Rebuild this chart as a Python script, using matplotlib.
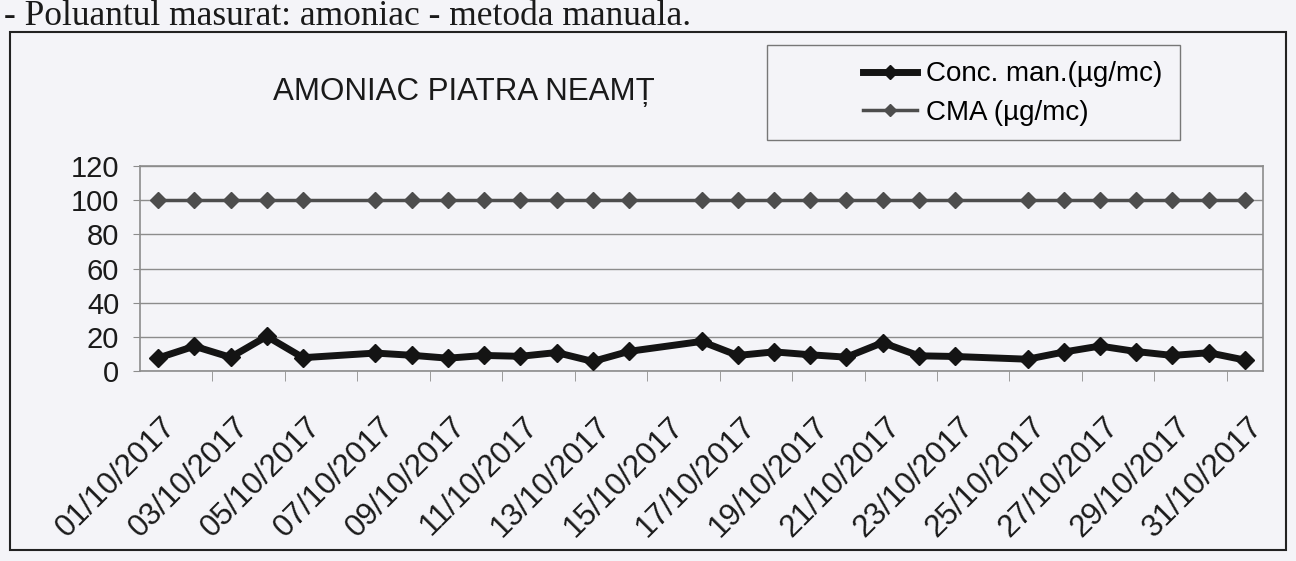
import numpy as np
import matplotlib.pyplot as plt
import matplotlib.transforms as mtransforms
from matplotlib.patches import Rectangle

plt.rcParams['font.family'] = ['Liberation Sans', 'DejaVu Sans']

# days of October 2017 with a measurement (6, 15 and 24 are missing)
days = [1, 2, 3, 4, 5, 7, 8, 9, 10, 11, 12, 13, 14, 16, 17, 18, 19, 20,
        21, 22, 23, 25, 26, 27, 28, 29, 30, 31]
conc = [7.6, 14.5, 8.0, 20.3, 7.8, 10.5, 9.2, 7.5, 9.1, 8.6, 10.8, 5.6, 11.5,
        17.3, 9.1, 11.2, 9.5, 8.1, 16.6, 8.9, 8.5, 6.9, 11.1, 14.6, 11.4,
        9.1, 10.7, 6.4]
cma = [100, 100, 100, 100, 100, 100, 100, 100, 100, 100, 100, 100, 100, 100,
       100, 100, 100, 100, 100, 100, 100, 100, 100, 100, 100, 100, 100, 100]

label_days = [1, 3, 5, 7, 9, 11, 13, 15, 17, 19, 21, 23, 25, 27, 29, 31]
tick_labels = ['01/10/2017', '03/10/2017', '05/10/2017', '07/10/2017',
               '09/10/2017', '11/10/2017', '13/10/2017', '15/10/2017',
               '17/10/2017', '19/10/2017', '21/10/2017', '23/10/2017',
               '25/10/2017', '27/10/2017', '29/10/2017', '31/10/2017']
y_ticks = [0, 20, 40, 60, 80, 100, 120]

BG = '#f4f4f8'
GRID = '#8c8c8c'
W, H = 1296, 561

fig = plt.figure(figsize=(W / 100, H / 100), dpi=100, facecolor=BG)
ax = fig.add_axes([140 / W, 1 - 371 / H, (1263 - 140) / W, (371 - 166) / H])
ax.set_facecolor(BG)

l_cma, = ax.plot(days, cma, color='#4d4d4d', lw=2.5, marker='D', ms=8,
                 zorder=3, label='CMA (µg/mc)')
l_conc, = ax.plot(days, conc, color='#141414', lw=5, marker='D', ms=9.5,
                  zorder=4, label='Conc. man.(µg/mc)')

ax.set_xlim(0.5, 31.5)
ax.set_ylim(0, 120)
ax.set_yticks(y_ticks)
ax.yaxis.grid(True, color=GRID, lw=1)
ax.set_axisbelow(True)

ax.set_xticks(label_days, tick_labels, rotation=45, ha='right', va='top',
              rotation_mode='anchor')
ax.set_xticks(np.arange(2.5, 31, 2), minor=True)
ax.tick_params(axis='x', which='major', length=0, pad=29, labelsize=22.4,
               labelcolor='#1a1a1a')
ax.tick_params(axis='x', which='minor', length=7, color=GRID, direction='out')
ax.tick_params(axis='y', length=5, color=GRID, pad=10, labelsize=21,
               labelcolor='#1a1a1a')
# push the rotated date labels a little to the right, like the original
shift = mtransforms.ScaledTranslation(3 / 100, 0, fig.dpi_scale_trans)
for lab in ax.get_xticklabels():
    lab.set_transform(lab.get_transform() + shift)

for s in ax.spines.values():
    s.set_color(GRID)
    s.set_linewidth(1.2)

# legend with its own box
fig.add_artist(Rectangle((767 / W, 1 - 140 / H), (1180 - 767) / W, 95 / H,
                         transform=fig.transFigure, fill=False, ec='#777777',
                         lw=1))
fig.legend([l_conc, l_cma], ['Conc. man.(µg/mc)', 'CMA (µg/mc)'],
           loc='center left', bbox_to_anchor=(863 / W, 1 - 93.5 / H),
           frameon=False, fontsize=20, handlelength=1.95, handletextpad=0.3,
           labelspacing=0.45, borderpad=0, borderaxespad=0, markerscale=0.8)

fig.text(464 / W, 1 - 92 / H, 'AMONIAC PIATRA NEAMȚ', ha='center',
         va='center', fontsize=22.5, color='#1a1a1a')

# outer frame of the scanned chart and the line of text above it
fig.add_artist(Rectangle((10 / W, 1 - 550 / H), (1286 - 10) / W, (550 - 32) / H,
                         transform=fig.transFigure, fill=False, ec='#222222',
                         lw=1.5))
fig.text(4 / W, 1 - 25 / H, '- Poluantul masurat: amoniac - metoda manuala.',
         family=['Liberation Serif', 'DejaVu Serif'], fontsize=25.5,
         va='baseline', color='#1a1a1a')

fig.savefig('out.png', dpi=100, facecolor=BG)
